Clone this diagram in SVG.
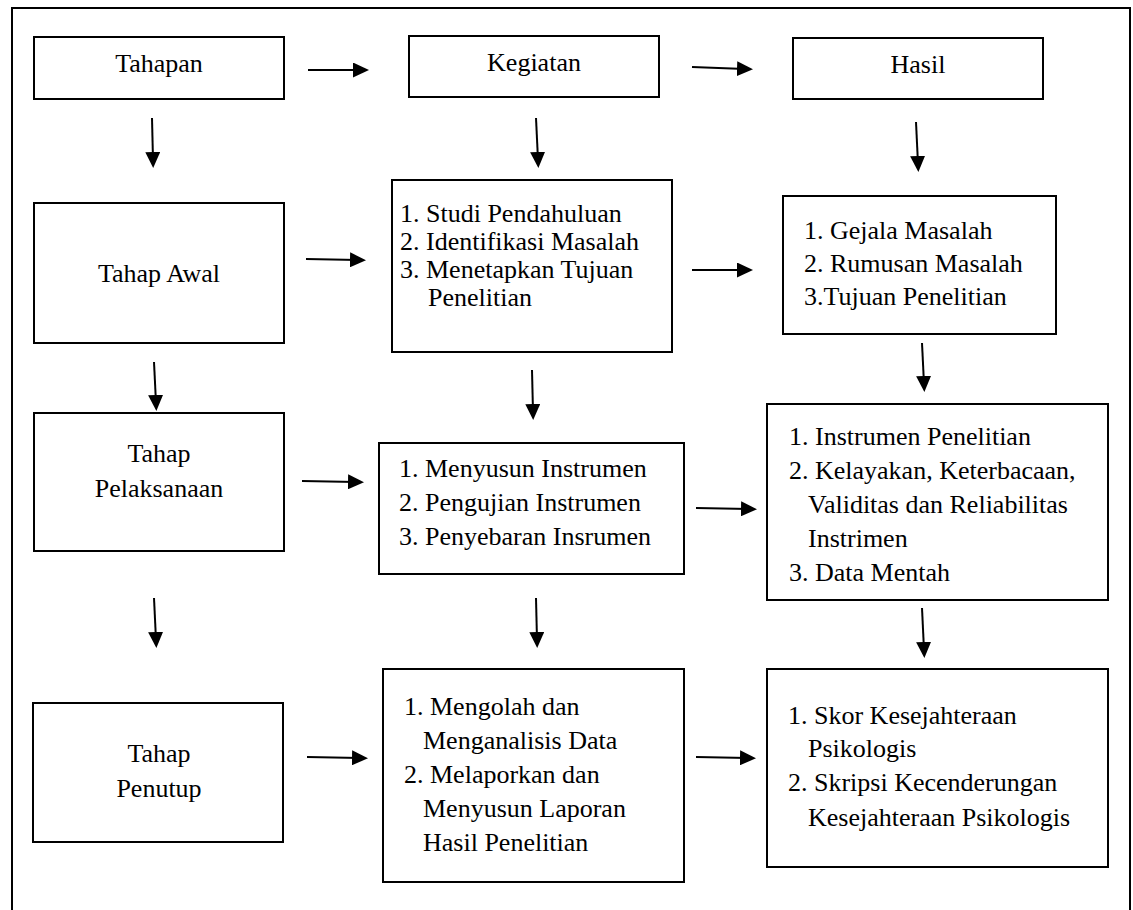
<svg xmlns="http://www.w3.org/2000/svg" width="1133" height="910" viewBox="0 0 1133 910">
<style>
.box{fill:#fff;stroke:#000;stroke-width:2}
.arr{stroke:#000;stroke-width:2;fill:none;marker-end:url(#ah)}
</style>
<defs>
<marker id="ah" markerUnits="userSpaceOnUse" markerWidth="16" markerHeight="15" refX="8" refY="7.5" orient="auto">
<path d="M0,0 L16,7.5 L0,15 Z" fill="#000"/>
</marker>
</defs>
<rect x="0" y="0" width="1133" height="910" fill="#fff"/>
<rect id="frame" x="12" y="8" width="1118" height="910" fill="none" stroke="#000" stroke-width="2"/>

<g id="connectors">
<line class="arr" x1="308" y1="70" x2="361" y2="70"/>
<line class="arr" x1="692" y1="67" x2="745" y2="69"/>
<line class="arr" x1="306" y1="259" x2="358" y2="260"/>
<line class="arr" x1="692" y1="270" x2="745" y2="270"/>
<line class="arr" x1="302" y1="481" x2="356" y2="482"/>
<line class="arr" x1="696" y1="508" x2="749" y2="509"/>
<line class="arr" x1="307" y1="757" x2="360" y2="758"/>
<line class="arr" x1="696" y1="757" x2="748" y2="758"/>
<line class="arr" x1="152" y1="118" x2="153" y2="160"/>
<line class="arr" x1="536" y1="118" x2="538" y2="160"/>
<line class="arr" x1="916" y1="122" x2="918" y2="164"/>
<line class="arr" x1="154" y1="362" x2="156" y2="403"/>
<line class="arr" x1="532" y1="370" x2="533" y2="412"/>
<line class="arr" x1="922" y1="343" x2="924" y2="384"/>
<line class="arr" x1="154" y1="598" x2="156" y2="640"/>
<line class="arr" x1="536" y1="598" x2="537" y2="640"/>
<line class="arr" x1="922" y1="608" x2="924" y2="650"/>
</g>

<g id="tahapan">
<rect class="box" x="34" y="37" width="250" height="62"/>
<text x="159" y="72" text-anchor="middle" font-family="Liberation Serif" font-size="26">Tahapan</text>
</g>
<g id="kegiatan">
<rect class="box" x="409" y="36" width="250" height="61"/>
<text x="534" y="71" text-anchor="middle" font-family="Liberation Serif" font-size="26">Kegiatan</text>
</g>
<g id="hasil">
<rect class="box" x="793" y="38" width="250" height="61"/>
<text x="918" y="73" text-anchor="middle" font-family="Liberation Serif" font-size="26">Hasil</text>
</g>

<g id="tahap-awal">
<rect class="box" x="34" y="203" width="250" height="140"/>
<text x="159" y="282" text-anchor="middle" font-family="Liberation Serif" font-size="26">Tahap Awal</text>
</g>
<g id="kegiatan-awal">
<rect class="box" x="392" y="180" width="280" height="172"/>
<text x="400" y="222" font-family="Liberation Serif" font-size="26">1. Studi Pendahuluan</text>
<text x="400" y="250" font-family="Liberation Serif" font-size="26">2. Identifikasi Masalah</text>
<text x="400" y="278" font-family="Liberation Serif" font-size="26">3. Menetapkan Tujuan</text>
<text x="428" y="306" font-family="Liberation Serif" font-size="26">Penelitian</text>
</g>
<g id="hasil-awal">
<rect class="box" x="783" y="196" width="273" height="138"/>
<text x="804" y="239" font-family="Liberation Serif" font-size="26">1. Gejala Masalah</text>
<text x="804" y="272" font-family="Liberation Serif" font-size="26">2. Rumusan Masalah</text>
<text x="804" y="305" font-family="Liberation Serif" font-size="26">3.Tujuan Penelitian</text>
</g>

<g id="tahap-pelaksanaan">
<rect class="box" x="34" y="413" width="250" height="138"/>
<text x="159" y="462" text-anchor="middle" font-family="Liberation Serif" font-size="26">Tahap</text>
<text x="159" y="497" text-anchor="middle" font-family="Liberation Serif" font-size="26">Pelaksanaan</text>
</g>
<g id="kegiatan-pelaksanaan">
<rect class="box" x="379" y="443" width="305" height="131"/>
<text x="399" y="477" font-family="Liberation Serif" font-size="26">1. Menyusun Instrumen</text>
<text x="399" y="511" font-family="Liberation Serif" font-size="26">2. Pengujian Instrumen</text>
<text x="399" y="545" font-family="Liberation Serif" font-size="26">3. Penyebaran Insrumen</text>
</g>
<g id="hasil-pelaksanaan">
<rect class="box" x="767" y="404" width="341" height="196"/>
<text x="789" y="445" font-family="Liberation Serif" font-size="26">1. Instrumen Penelitian</text>
<text x="789" y="479" font-family="Liberation Serif" font-size="26">2. Kelayakan, Keterbacaan,</text>
<text x="808" y="513" font-family="Liberation Serif" font-size="26">Validitas dan Reliabilitas</text>
<text x="808" y="547" font-family="Liberation Serif" font-size="26">Instrimen</text>
<text x="789" y="581" font-family="Liberation Serif" font-size="26">3. Data Mentah</text>
</g>

<g id="tahap-penutup">
<rect class="box" x="33" y="703" width="250" height="139"/>
<text x="159" y="762" text-anchor="middle" font-family="Liberation Serif" font-size="26">Tahap</text>
<text x="159" y="797" text-anchor="middle" font-family="Liberation Serif" font-size="26">Penutup</text>
</g>
<g id="kegiatan-penutup">
<rect class="box" x="383" y="669" width="301" height="213"/>
<text x="404" y="715" font-family="Liberation Serif" font-size="26">1. Mengolah dan</text>
<text x="423" y="749" font-family="Liberation Serif" font-size="26">Menganalisis Data</text>
<text x="404" y="783" font-family="Liberation Serif" font-size="26">2. Melaporkan dan</text>
<text x="423" y="817" font-family="Liberation Serif" font-size="26">Menyusun Laporan</text>
<text x="423" y="851" font-family="Liberation Serif" font-size="26">Hasil Penelitian</text>
</g>
<g id="hasil-penutup">
<rect class="box" x="767" y="669" width="341" height="198"/>
<text x="788" y="724" font-family="Liberation Serif" font-size="26">1. Skor Kesejahteraan</text>
<text x="808" y="757" font-family="Liberation Serif" font-size="26">Psikologis</text>
<text x="788" y="791" font-family="Liberation Serif" font-size="26">2. Skripsi Kecenderungan</text>
<text x="808" y="826" font-family="Liberation Serif" font-size="26">Kesejahteraan Psikologis</text>
</g>
</svg>
